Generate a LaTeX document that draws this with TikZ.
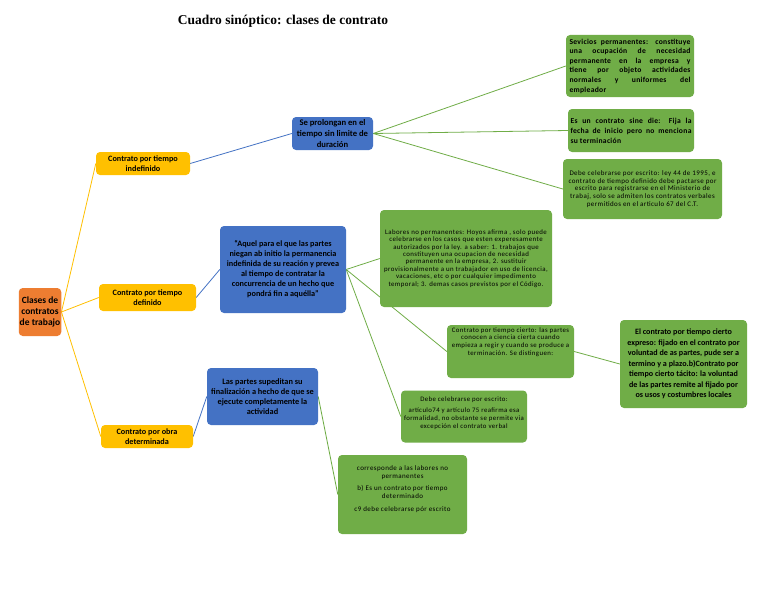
\documentclass[tikz,border=0pt]{standalone}
\usepackage{fontspec}
\setmainfont{Carlito}
\newfontfamily\spaced[LetterSpace=6]{Carlito}
\newfontfamily\spacedb[LetterSpace=4]{Carlito}
\newfontfamily\titlefont{Liberation Serif}
\usetikzlibrary{backgrounds}
\definecolor{corange}{HTML}{ED7D31}
\definecolor{cyellow}{HTML}{FFC000}
\definecolor{cblue}{HTML}{4472C4}
\definecolor{cgreen}{HTML}{70AD47}
\newcommand\myfs[2]{\fontsize{#1}{#2}\selectfont}
\newcommand\jl[1]{\makebox[121pt][s]{#1}\\}
\begin{document}
\begin{tikzpicture}[x=1pt,y=-1pt,
  box/.style={rounded corners=4pt, inner sep=1pt, align=center, text=black},
  rootbox/.style={box, fill=corange, font=\bfseries\myfs{9.5}{10.7}},
  ybox/.style={box, fill=cyellow, font=\bfseries\myfs{8.2}{10.5}},
  bbox/.style={box, fill=cblue, font=\bfseries\myfs{8.3}{10}},
  gbox/.style={box, fill=cgreen, font=\spaced\myfs{7}{7.8}},
  gbold/.style={box, fill=cgreen, font=\spacedb\bfseries\myfs{7.6}{9.6}},
  txt/.style={inner sep=0pt, align=center, text=black, font=\spaced\myfs{7}{7.8}},
  yline/.style={draw=cyellow, line width=0.8pt},
  bline/.style={draw=cblue, line width=0.8pt},
  gline/.style={draw=cgreen, line width=0.8pt}]
\useasboundingbox (0,0) rectangle (768,594);

\node (title) at (283,21) {\titlefont\bfseries\myfs{13.5}{16}Cuadro sinóptico: clases de contrato};

\node[rootbox, minimum width=42pt, minimum height=48pt] (root) at (40,312) {Clases de\\contratos\\de trabajo};

\node[ybox, minimum width=94pt, minimum height=23pt] (y1) at (143,163.5) {Contrato por tiempo\\indefinido};
\node[ybox, minimum width=97pt, minimum height=27pt] (y2) at (147.5,297.5) {Contrato por tiempo\\definido};
\node[ybox, minimum width=92pt, minimum height=23pt] (y3) at (147,436.5) {Contrato por obra\\determinada};

\node[bbox, font=\bfseries\myfs{8.6}{11}, minimum width=81pt, minimum height=33pt] (b1) at (332.5,133.5) {Se prolongan en el\\tiempo sin limite de\\duración};
\node[bbox, font=\bfseries\myfs{8.2}{10}, minimum width=126pt, minimum height=87pt] (b2) at (283,269.5) {“Aquel para el que las partes\\niegan ab initio la permanencia\\indefinida de su reación y prevea\\al tiempo de contratar la\\concurrencia de un hecho que\\pondrá fin a aquélla”};
\node[bbox, minimum width=111pt, minimum height=57pt] (b3) at (262.5,396.5) {Las partes supeditan su\\finalización a hecho de que se\\ejecute completamente la\\actividad};

\node[gbold, align=left, minimum width=128pt, minimum height=62pt] (g1) at (630,66) {\jl{Sevicios permanentes: constituye}\jl{una ocupación de necesidad}\jl{permanente en la empresa y}\jl{tiene por objeto actividades}\jl{normales y uniformes del}empleador};
\node[gbold, font=\spacedb\bfseries\myfs{7.6}{10}, align=left, minimum width=126pt, minimum height=43pt] (g2) at (631,130.5) {\jl{Es un contrato sine die: Fija la}\jl{fecha de inicio pero no menciona}su terminación};
\node[gbox, minimum width=159pt, minimum height=60pt] (g3) at (642.5,189) {Debe celebrarse por escrito: ley 44 de 1995, e\\contrato de tiempo definido debe pactarse por\\escrito para registrarse en el Ministerio de\\trabaj, solo se admiten los contratos verbales\\permitidos en el articulo 67 del C.T.};
\node[gbox, font=\spaced\myfs{6.85}{7.4}, minimum width=172pt, minimum height=97pt] (g4) at (466,258.5) {Labores no permanentes: Hoyos afirma , solo puede\\celebrarse en los casos que esten experesamente\\autorizados por la ley. a saber: 1. trabajos que\\constituyen una ocupacion de necesidad\\permanente en la empresa, 2. sustituir\\provisionalmente a un trabajador en uso de licencia,\\vacaciones, etc o por cualquier impedimento\\temporal; 3. demas casos previstos por el Código.};
\node[gbox, minimum width=127pt, minimum height=53pt] (g5) at (510.5,351.5) {};
\node[txt, font=\spaced\myfs{6.8}{7.8}] (g5t) at (510.5,342) {Contrato por tiempo cierto: las partes\\conocen a ciencia cierta cuando\\empieza a regir y cuando se produce a\\terminación. Se distinguen:};
\node[gbold, font=\bfseries\myfs{8.1}{10.5}, minimum width=127pt, minimum height=88pt] (g6) at (683.5,364) {El contrato por tiempo cierto\\expreso: fijado en el contrato por\\voluntad de as partes, pude ser a\\termino y a plazo.b)Contrato por\\tiempo cierto tácito: la voluntad\\de las partes remite al fijado por\\os usos y costumbres locales};
\node[gbox, minimum width=126pt, minimum height=52pt] (g7) at (464,416.5) {};
\node[txt, font=\spaced\myfs{6.8}{8.3}] (g7t) at (464,413.5) {Debe celebrarse por escrito:\\[2pt]artículo74 y artículo 75 reafirma esa\\formalidad, no obstante se permite via\\excepción el contrato verbal};
\node[gbox, minimum width=129pt, minimum height=79pt] (g8) at (402.5,494.5) {};
\node[txt] (g8t) at (402.5,489) {corresponde a las labores no\\permanentes\\[5pt]b) Es un contrato por tiempo\\determinado\\[5pt]c9 debe celebrarse pór escrito};

\begin{scope}[on background layer]
\fill[white] (0,0) rectangle (768,594);
\draw[yline] (root.east) -- (y1.west);
\draw[yline] (root.east) -- (y2.west);
\draw[yline] (root.east) -- (y3.west);
\draw[bline] (y1.east) -- (b1.west);
\draw[bline] (y2.east) -- (b2.west);
\draw[bline] (y3.east) -- (b3.west);
\draw[gline] (b1.east) -- (g1.west);
\draw[gline] (b1.east) -- (g2.west);
\draw[gline] (b1.east) -- (g3.west);
\draw[gline] (b2.east) -- (g4.west);
\draw[gline] (b2.east) -- (g5.west);
\draw[gline] (b2.east) -- (g7.west);
\draw[gline] (g5.east) -- (g6.west);
\draw[gline] (b3.east) -- (g8.west);
\end{scope}
\end{tikzpicture}
\end{document}
